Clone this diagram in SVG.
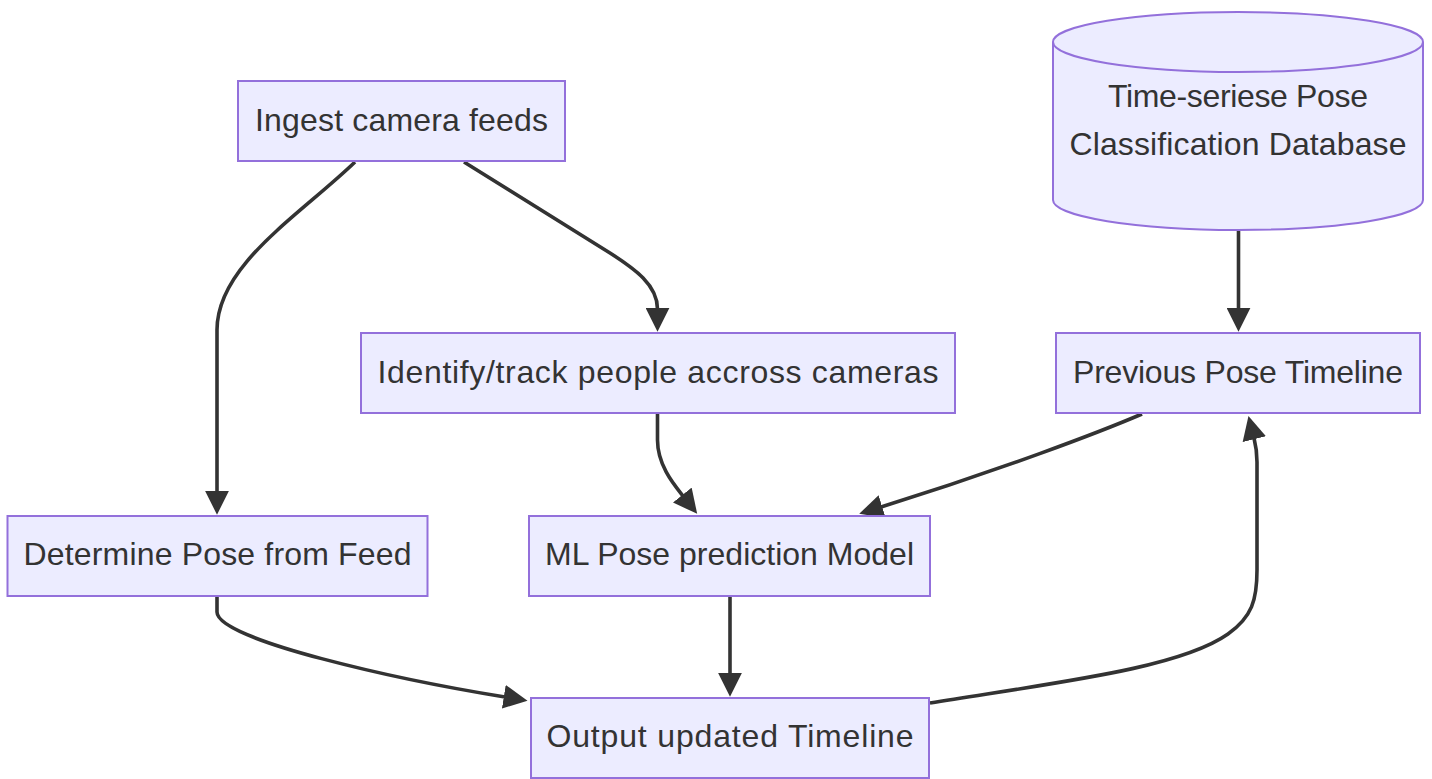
<svg xmlns="http://www.w3.org/2000/svg" width="1432" height="779" viewBox="0 0 1432 779">
<style>
.node rect, .node path.shape { fill: #ECECFF; stroke: #9370DB; stroke-width: 2; }
.node text { font-family: "Liberation Sans", Arial, sans-serif; font-size: 32px; fill: #333333; text-anchor: middle; }
.edge { fill: none; stroke: #333333; stroke-width: 3.6; }
</style>
<defs>
<marker id="arrow" viewBox="0 0 10 10" refX="0.5" refY="5" markerUnits="userSpaceOnUse" markerWidth="24" markerHeight="24" orient="auto">
<path d="M0,0 L10,5 L0,10 z" fill="#333333"/>
</marker>
</defs>
<rect x="0" y="0" width="1432" height="779" fill="#FFFFFF"/>
<g id="connectors">
<path class="edge" marker-end="url(#arrow)" d="M355,162 C300,215 217,265 217,330 L217,492"/>
<path class="edge" marker-end="url(#arrow)" d="M464,162 L610,253 C635,269 657.5,285 657.5,309"/>
<path class="edge" marker-end="url(#arrow)" d="M1238.5,231 L1238.5,309"/>
<path class="edge" marker-end="url(#arrow)" d="M657.5,413 L657.5,440 C657.5,465 673.7,484.3 683,496"/>
<path class="edge" marker-end="url(#arrow)" d="M1142,414 C1100,432 1000,470 881,507"/>
<path class="edge" marker-end="url(#arrow)" d="M217,597 L217,612 C217,640 400,680 505,697"/>
<path class="edge" marker-end="url(#arrow)" d="M730,596 L730,674"/>
<path class="edge" marker-end="url(#arrow)" d="M930,703 C1060,682 1180,668 1228,634 C1252,617 1257,600 1257,570 L1257,462 C1257,452 1256,446 1254,438"/>
</g>
<g id="ingest" class="node">
<rect x="238" y="81" width="327" height="80"/>
<text x="401.5" y="131" textLength="293">Ingest camera feeds</text>
</g>
<g id="database" class="node">
<path class="shape" d="M1053,42 a185,30 0 0 0 370,0 a185,30 0 0 0 -370,0 l0,158 a185,30 0 0 0 370,0 l0,-158"/>
<text x="1238" y="107" textLength="260">Time-seriese Pose</text>
<text x="1238" y="155" textLength="337">Classification Database</text>
</g>
<g id="identify" class="node">
<rect x="361" y="333" width="594" height="80"/>
<text x="658" y="383" textLength="561">Identify/track people accross cameras</text>
</g>
<g id="previous" class="node">
<rect x="1056" y="333" width="364" height="80"/>
<text x="1238" y="383" textLength="330">Previous Pose Timeline</text>
</g>
<g id="determine" class="node">
<rect x="7.5" y="516" width="420" height="80"/>
<text x="217.5" y="565" textLength="388">Determine Pose from Feed</text>
</g>
<g id="ml" class="node">
<rect x="529" y="516" width="401" height="80"/>
<text x="729.5" y="565" textLength="369">ML Pose prediction Model</text>
</g>
<g id="output" class="node">
<rect x="531" y="698" width="398" height="80"/>
<text x="730" y="747" textLength="367">Output updated Timeline</text>
</g>
</svg>
